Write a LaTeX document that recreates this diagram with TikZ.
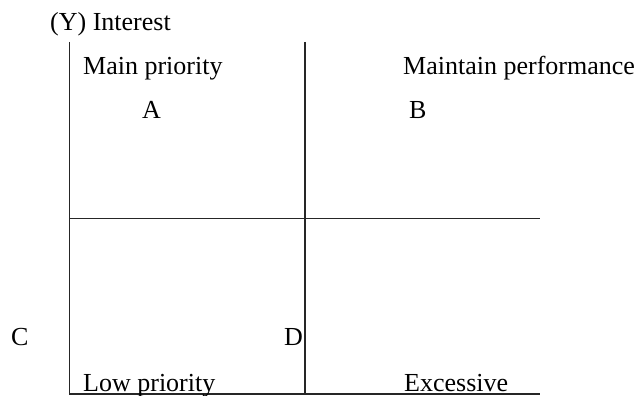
\documentclass[tikz,border=0pt]{standalone}
\usepackage{fontspec}
\setmainfont{Liberation Serif}
\begin{document}
\begin{tikzpicture}[x=1pt,y=-1pt,
  lbl/.style={anchor=base west,inner sep=0pt,font=\fontsize{26}{30}\selectfont},
  axis/.style={line width=1.8pt,draw=black!85}]
\useasboundingbox (0,0) rectangle (638,396);
\coordinate (lt) at (69.5,42);
\coordinate (lb) at (69.5,394);
\coordinate (mt) at (305,42);
\coordinate (mb) at (305,394);
\coordinate (hl) at (69.5,218.5);
\coordinate (hr) at (540,218.5);
\coordinate (br) at (540,394);
\draw[axis] (lt) -- (lb) -- (br);
\draw[axis] (mt) -- (mb);
\draw[axis] (hl) -- (hr);
\node[lbl] (yl) at (50,31) {(Y) Interest};
\node[lbl] (mp) at (83,75) {Main priority};
\node[lbl] (a) at (142,119) {A};
\node[lbl] (mperf) at (403,75) {Maintain performance};
\node[lbl] (b) at (409,119) {B};
\node[lbl] (c) at (11,345) {C};
\node[lbl] (d) at (284,345) {D};
\node[lbl] (lp) at (83,391) {Low priority};
\node[lbl] (ex) at (404,391) {Excessive};
\end{tikzpicture}
\end{document}
